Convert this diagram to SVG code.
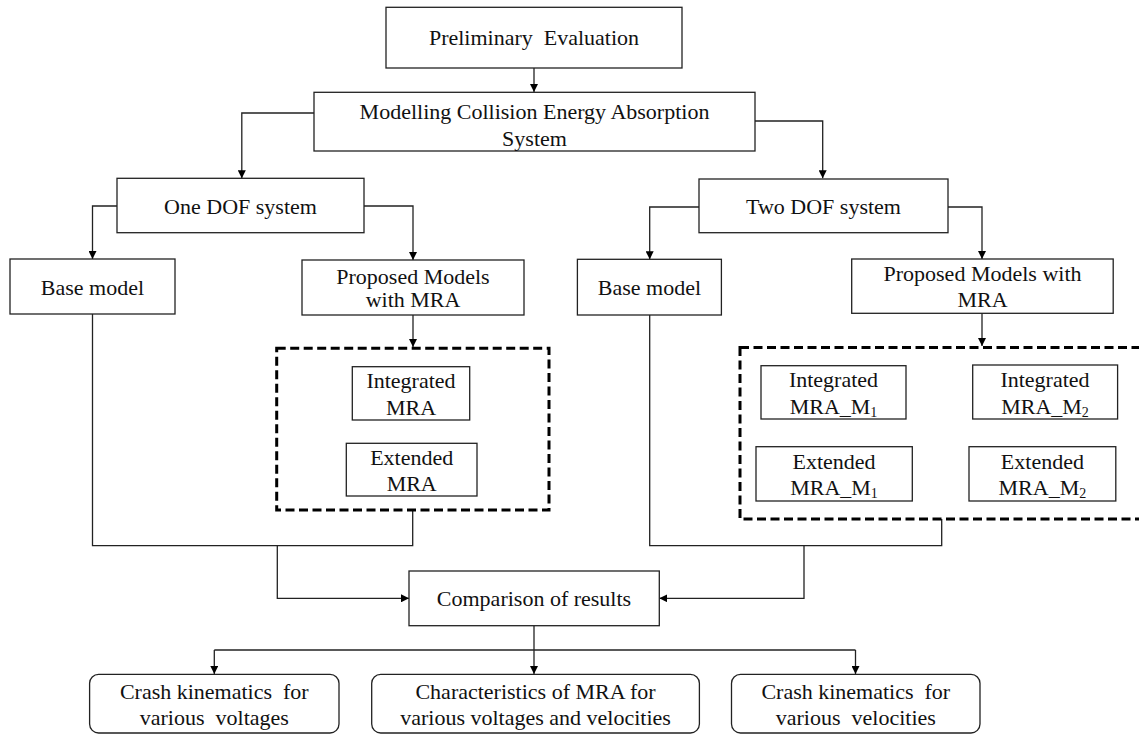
<svg xmlns="http://www.w3.org/2000/svg" width="1139" height="734" viewBox="0 0 1139 734">
<style>
  .box { fill: #ffffff; stroke: #222222; stroke-width: 1.3; }
  .dash { fill: none; stroke: #000000; stroke-width: 3; stroke-dasharray: 9 4.5; }
  .t { font-family: 'Liberation Serif', Tinos, 'Times New Roman', 'DejaVu Serif', serif; font-size: 22px; fill: #111111; text-anchor: middle; }
  .sub { font-size: 14px; }
  .c { fill: none; stroke: #222222; stroke-width: 1.3; }
  .ca { fill: none; stroke: #222222; stroke-width: 1.3; marker-end: url(#ah); }
</style>
<defs>
  <marker id="ah" viewBox="0 0 10 10" refX="10" refY="5" markerWidth="8" markerHeight="8" markerUnits="userSpaceOnUse" orient="auto">
    <path d="M0,0 L10,5 L0,10 Z" fill="#000000"/>
  </marker>
</defs>
<rect width="1139" height="734" fill="#ffffff"/>

<g id="connectors">
  <path class="ca" d="M534,68 V92"/>
  <path class="ca" d="M314,113 H241.8 V178.3"/>
  <path class="ca" d="M755,121 H822.7 V178.3"/>
  <path class="ca" d="M117,206 H92.5 V259"/>
  <path class="ca" d="M364,206 H413 V260"/>
  <path class="ca" d="M413,315 V347"/>
  <path class="ca" d="M699,207 H649.7 V259.3"/>
  <path class="ca" d="M948,207 H982 V259"/>
  <path class="ca" d="M982,313 V346"/>
  <path class="c" d="M92.5,314 V545.7 H412.7 V510"/>
  <path class="ca" d="M277.3,545.7 V598.3 H409"/>
  <path class="c" d="M649.7,315 V545.7 H941.7 V519"/>
  <path class="ca" d="M804,545.7 V598.3 H659.3"/>
  <path class="ca" d="M534,625.7 V674"/>
  <path class="c" d="M214.3,650 H855.5"/>
  <path class="ca" d="M214.3,650 V674"/>
  <path class="ca" d="M855.5,650 V674"/>
</g>

<g id="preliminary">
  <rect class="box" x="386" y="7.3" width="296" height="60.7"/>
  <text class="t" x="534" y="45" xml:space="preserve">Preliminary  Evaluation</text>
</g>
<g id="modelling">
  <rect class="box" x="314" y="92.3" width="441" height="58.7"/>
  <text class="t" x="534.5" y="118.5">Modelling Collision Energy Absorption</text>
  <text class="t" x="534.5" y="146">System</text>
</g>
<g id="one-dof">
  <rect class="box" x="117" y="178.3" width="247" height="54.4"/>
  <text class="t" x="240.5" y="213.5">One DOF system</text>
</g>
<g id="base-model-1">
  <rect class="box" x="10" y="259" width="165" height="55"/>
  <text class="t" x="92.5" y="294.5">Base model</text>
</g>
<g id="proposed-1">
  <rect class="box" x="302" y="260" width="222" height="55"/>
  <text class="t" x="413" y="283.5">Proposed Models</text>
  <text class="t" x="413" y="307">with MRA</text>
</g>
<g id="group-1">
  <rect class="dash" x="276.7" y="348.3" width="272.3" height="161.7"/>
  <g id="integrated-1">
    <rect class="box" x="352.3" y="366.7" width="117.4" height="53.3"/>
    <text class="t" x="411" y="388">Integrated</text>
    <text class="t" x="411" y="415">MRA</text>
  </g>
  <g id="extended-1">
    <rect class="box" x="346.3" y="443.3" width="130.7" height="52.7"/>
    <text class="t" x="411.7" y="464.5">Extended</text>
    <text class="t" x="411.7" y="491">MRA</text>
  </g>
</g>
<g id="two-dof">
  <rect class="box" x="699" y="179" width="249" height="53.7"/>
  <text class="t" x="823.5" y="213.5">Two DOF system</text>
</g>
<g id="base-model-2">
  <rect class="box" x="577.4" y="259.3" width="144" height="55.7"/>
  <text class="t" x="649.4" y="294.5">Base model</text>
</g>
<g id="proposed-2">
  <rect class="box" x="851.7" y="259" width="261.5" height="54.3"/>
  <text class="t" x="982.5" y="280.5">Proposed Models with</text>
  <text class="t" x="982.5" y="306.5">MRA</text>
</g>
<g id="group-2">
  <rect class="dash" x="740" y="347.5" width="420" height="171.5"/>
  <g id="integrated-m1">
    <rect class="box" x="761" y="365.7" width="145" height="53.3"/>
    <text class="t" x="833.5" y="387">Integrated</text>
    <text class="t" x="833.5" y="414">MRA_M<tspan class="sub" dy="3">1</tspan></text>
  </g>
  <g id="integrated-m2">
    <rect class="box" x="972.7" y="365" width="144.9" height="54"/>
    <text class="t" x="1045" y="387">Integrated</text>
    <text class="t" x="1045" y="414">MRA_M<tspan class="sub" dy="3">2</tspan></text>
  </g>
  <g id="extended-m1">
    <rect class="box" x="756" y="446.7" width="156.3" height="54.3"/>
    <text class="t" x="834" y="468.5">Extended</text>
    <text class="t" x="834" y="495">MRA_M<tspan class="sub" dy="3">1</tspan></text>
  </g>
  <g id="extended-m2">
    <rect class="box" x="969" y="446.7" width="146.8" height="54.3"/>
    <text class="t" x="1042.4" y="468.5">Extended</text>
    <text class="t" x="1042.4" y="495">MRA_M<tspan class="sub" dy="3">2</tspan></text>
  </g>
</g>
<g id="comparison">
  <rect class="box" x="409" y="571" width="250.3" height="54.7"/>
  <text class="t" x="534" y="606">Comparison of results</text>
</g>
<g id="out-voltages">
  <rect class="box" x="89.6" y="674.3" width="249.4" height="58.7" rx="9"/>
  <text class="t" x="214.3" y="698.5" xml:space="preserve">Crash kinematics  for</text>
  <text class="t" x="214.3" y="725" xml:space="preserve">various  voltages</text>
</g>
<g id="out-characteristics">
  <rect class="box" x="371.7" y="674.3" width="327.7" height="58.7" rx="9"/>
  <text class="t" x="535.5" y="698.5">Characteristics of MRA for</text>
  <text class="t" x="535.5" y="725">various voltages and velocities</text>
</g>
<g id="out-velocities">
  <rect class="box" x="731.5" y="674.3" width="248.5" height="58.7" rx="9"/>
  <text class="t" x="855.8" y="698.5" xml:space="preserve">Crash kinematics  for</text>
  <text class="t" x="855.8" y="725" xml:space="preserve">various  velocities</text>
</g>
</svg>
